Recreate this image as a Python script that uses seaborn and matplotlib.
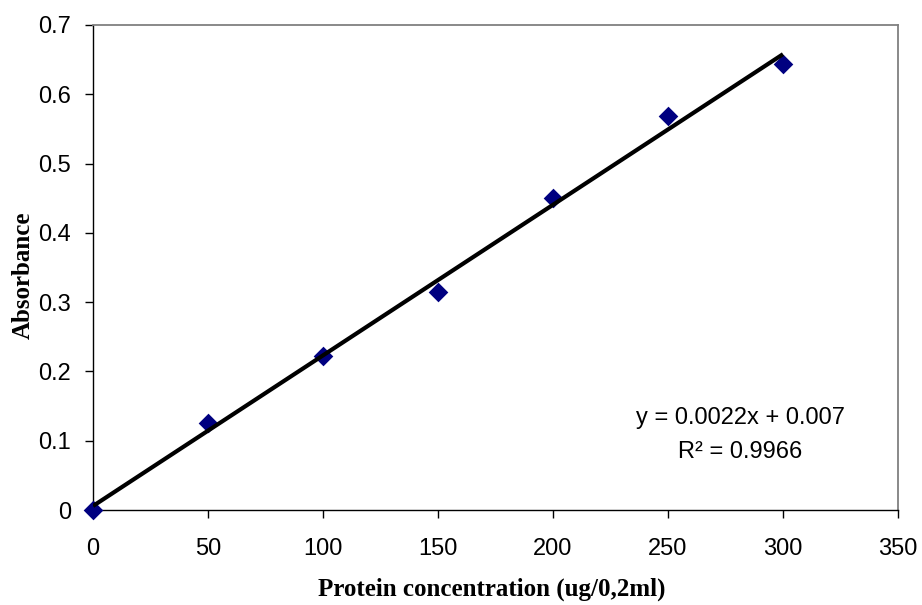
import matplotlib
matplotlib.use("Agg")
import matplotlib.pyplot as plt
import numpy as np
import pandas as pd
import seaborn as sns

# standard curve data
concentration = [0, 50, 100, 150, 200, 250, 300]
absorbance = [0.0, 0.125, 0.222, 0.315, 0.450, 0.568, 0.643]
x_ticks = [0, 50, 100, 150, 200, 250, 300, 350]
y_ticks = [0, 0.1, 0.2, 0.3, 0.4, 0.5, 0.6, 0.7]
y_tick_labels = ["0", "0.1", "0.2", "0.3", "0.4", "0.5", "0.6", "0.7"]
equation_text = "y = 0.0022x + 0.007"
r2_text = "R\u00b2 = 0.9966"

df = pd.DataFrame({"conc": concentration, "abs": absorbance})

sns.set_style("white")
plt.rcParams['font.family'] = ['Liberation Sans', 'DejaVu Sans']
plt.rcParams['text.color'] = 'black'
plt.rcParams['axes.labelcolor'] = 'black'
plt.rcParams['xtick.color'] = 'black'
plt.rcParams['ytick.color'] = 'black'

fig = plt.figure(figsize=(9.22, 6.05), dpi=100)
ax = fig.add_axes([0.1009, 0.157, 0.8731, 0.8017])

sns.regplot(data=df, x="conc", y="abs", ax=ax, ci=None, truncate=True,
            marker="D",
            scatter_kws={"color": "#000080", "s": 100, "alpha": 1,
                         "clip_on": False, "linewidths": 0, "zorder": 3},
            line_kws={"color": "black", "linewidth": 3, "zorder": 4,
                      "solid_capstyle": "butt"})

ax.set_xlim(0, 350)
ax.set_ylim(0, 0.7)
ax.set_xticks(x_ticks)
ax.set_xticklabels([str(t) for t in x_ticks])
ax.set_yticks(y_ticks)
ax.set_yticklabels(y_tick_labels)
ax.tick_params(axis="both", direction="out", length=6, width=1,
               labelsize=17, colors="black")
ax.tick_params(axis="y", pad=10)
ax.tick_params(axis="x", pad=14)
ax.tick_params(top=False, right=False, left=True, bottom=True)

for side in ["left", "bottom"]:
    ax.spines[side].set_color("black")
    ax.spines[side].set_linewidth(1)
for side in ["top", "right"]:
    ax.spines[side].set_color("#808080")
    ax.spines[side].set_linewidth(1.3)

ax.set_xlabel("Protein concentration (ug/0,2ml)", family="Liberation Serif",
              fontweight="bold", fontsize=18)
ax.set_ylabel("Absorbance", family="Liberation Serif",
              fontweight="bold", fontsize=18)
ax.xaxis.set_label_coords(0.495, -0.14)
ax.yaxis.set_label_coords(-0.073, 0.483)

ax.text(0.804, 0.19, equation_text, transform=ax.transAxes,
        ha="center", va="center", fontsize=17)
ax.text(0.804, 0.12, r2_text, transform=ax.transAxes,
        ha="center", va="center", fontsize=17)

fig.savefig("out.png", dpi=100)
